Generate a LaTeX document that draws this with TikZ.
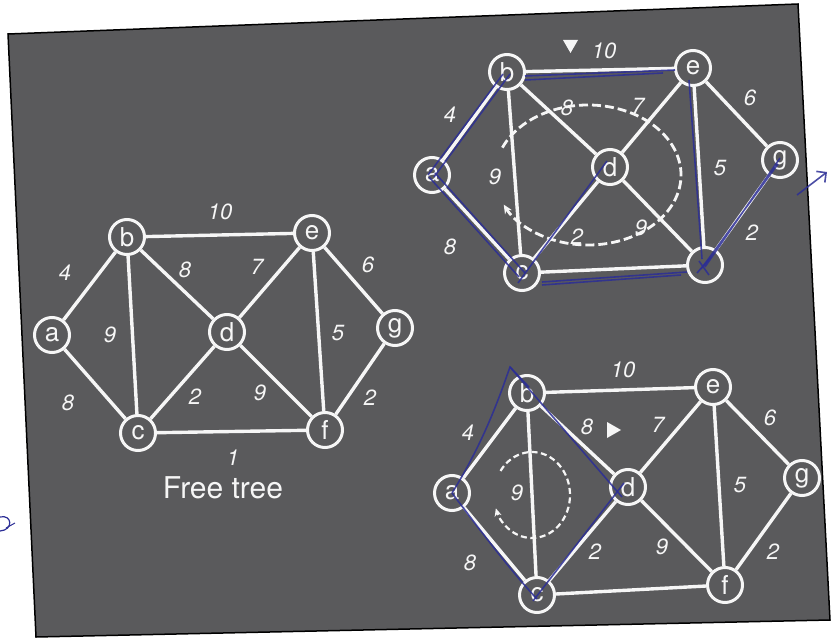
\documentclass[tikz,border=0pt]{standalone}
\usepackage{fontspec}
\setmainfont{TeX Gyre Heros}
\usetikzlibrary{arrows.meta}
\definecolor{slate}{RGB}{90,90,92}
\definecolor{chalk}{RGB}{246,246,246}
\definecolor{pen}{RGB}{44,46,150}
\tikzset{
  vtx/.style={circle,draw=chalk,line width=3pt,fill=slate,text=chalk,inner sep=0pt,
    minimum size=35pt,font=\fontsize{26}{26}\selectfont},
  edge/.style={draw=chalk,line width=3.4pt},
  wt/.style={text=chalk,font=\fontsize{22}{22}\selectfont\itshape,inner sep=0pt},
  ink/.style={draw=pen,line width=1.6pt,opacity=.85},
  sweep/.style={draw=chalk,line width=2.8pt,dash pattern=on 9pt off 4pt},
  pointer/.style={fill=chalk,draw=none}
}
\begin{document}
\begin{tikzpicture}[x=1pt,y=-1pt]
\useasboundingbox[fill=white] (0,0) rectangle (832,639);
% the slide
\filldraw[fill=slate,draw=black,line width=1.5pt] (8,34) -- (798,4) -- (830,620) -- (36,637) -- cycle;

% free tree
\node[vtx] (La) at (52,335) {a};
\node[vtx] (Lb) at (127,237) {b};
\node[vtx] (Lc) at (138,433) {c};
\node[vtx] (Ld) at (227,332) {d};
\node[vtx] (Le) at (312,233) {e};
\node[vtx] (Lf) at (325,430) {f};
\node[vtx] (Lg) at (395,328) {g};
\draw[edge] (La)--(Lb) (La)--(Lc) (Lb)--(Lc) (Lb)--(Ld) (Lb)--(Le) (Lc)--(Ld)
  (Lc)--(Lf) (Ld)--(Le) (Ld)--(Lf) (Le)--(Lf) (Le)--(Lg) (Lf)--(Lg);
\node[wt] (Lw1) at (220,212) {10};
\node[wt] (Lw2) at (65,273) {4};
\node[wt] (Lw3) at (185,270) {8};
\node[wt] (Lw4) at (257,267) {7};
\node[wt] (Lw5) at (368,265) {6};
\node[wt] (Lw6) at (110,335) {9};
\node[wt] (Lw7) at (338,333) {5};
\node[wt] (Lw8) at (68,403) {8};
\node[wt] (Lw9) at (195,397) {2};
\node[wt] (Lw10) at (260,393) {9};
\node[wt] (Lw11) at (370,398) {2};
\node[wt] (Lw12) at (233,458) {1};
\node[text=chalk,font=\fontsize{30}{30}\selectfont] (Lcap) at (223,488) {Free tree};

% top right
\node[vtx] (Ta) at (432,175) {a};
\node[vtx] (Tb) at (507,72) {b};
\node[vtx] (Tc) at (522,273) {c};
\node[vtx] (Td) at (610,167) {d};
\node[vtx] (Te) at (693,68) {e};
\node[vtx] (Tf) at (705,265) {};
\node[vtx] (Tg) at (780,160) {g};
\draw[edge] (Ta)--(Tb) (Ta)--(Tc) (Tb)--(Tc) (Tb)--(Td) (Tb)--(Te) (Tc)--(Td)
  (Tc)--(Tf) (Td)--(Te) (Td)--(Tf) (Te)--(Tf) (Te)--(Tg) (Tf)--(Tg);
\draw[sweep,-{Stealth[length=9pt,width=8pt]}] (588,175) ++(203:93 and 70)
  arc[start angle=203,end angle=515,x radius=93,y radius=70];
\fill[pointer] (563,40) -- (578,40) -- (570.5,53) -- cycle;
\node[wt] (Tw1) at (604,51) {10};
\node[wt] (Tw2) at (450,115) {4};
\node[wt] (Tw3) at (567,108) {8};
\node[wt] (Tw4) at (638,106) {7};
\node[wt] (Tw5) at (750,98) {6};
\node[wt] (Tw6) at (495,177) {9};
\node[wt] (Tw7) at (720,168) {5};
\node[wt] (Tw8) at (450,247) {8};
\node[wt] (Tw9) at (577,237) {2};
\node[wt] (Tw10) at (641,228) {9};
\node[wt] (Tw11) at (752,233) {2};
% pen marks
\draw[ink] ([shift={(-4,0)}]Ta.center)--([shift={(-4,2)}]Tb.center)
  ([shift={(2,2)}]Ta.center)--([shift={(3,2)}]Tb.center);
\draw[ink] ([shift={(-3,2)}]Ta.center)--([shift={(-3,4)}]Tc.center)
  ([shift={(3,-2)}]Ta.center)--([shift={(3,0)}]Tc.center);
\draw[ink] ([shift={(18,4)}]Tb.center)--([shift={(-18,2)}]Te.center)
  ([shift={(18,8)}]Tb.center)--([shift={(-30,5)}]Te.center);
\draw[ink] ([shift={(-4,10)}]Tc.center)--([shift={(-3,-6)}]Td.center);
\draw[ink] ([shift={(20,9)}]Tc.center)--([shift={(-18,7)}]Tf.center)
  ([shift={(20,12)}]Tc.center)--([shift={(-24,10)}]Tf.center);
\draw[ink] ([shift={(-4,12)}]Te.center)--([shift={(-3,-6)}]Tf.center);
\draw[ink] ([shift={(-4,4)}]Tf.center)--([shift={(-2,4)}]Tg.center)
  ([shift={(0,2)}]Tf.center)--([shift={(0,-2)}]Tg.center);
\draw[ink] ([shift={(-8,8)}]Tf.center)--([shift={(6,-8)}]Tf.center)
  ([shift={(-6,-4)}]Tf.center)--([shift={(4,10)}]Tf.center);
\draw[ink,-{Straight Barb[length=7pt]}] (797,195)--(827,172);

% bottom right
\node[vtx] (Ba) at (452,493) {a};
\node[vtx] (Bb) at (527,393) {b};
\node[vtx] (Bc) at (537,595) {c};
\node[vtx] (Bd) at (628,487) {d};
\node[vtx] (Be) at (713,387) {e};
\node[vtx] (Bf) at (725,585) {f};
\node[vtx] (Bg) at (802,478) {g};
\draw[edge] (Ba)--(Bb) (Ba)--(Bc) (Bb)--(Bc) (Bb)--(Bd) (Bb)--(Be) (Bc)--(Bd)
  (Bc)--(Bf) (Bd)--(Be) (Bd)--(Bf) (Be)--(Bf) (Be)--(Bg) (Bf)--(Bg);
\draw[sweep,line width=2.2pt,dash pattern=on 6pt off 3.5pt,-{Stealth[length=8pt,width=7pt]}]
  (532,495) ++(214:38 and 43) arc[start angle=214,end angle=522,x radius=38,y radius=43];
\fill[pointer] (607,422) -- (607,438) -- (621,430) -- cycle;
\node[wt] (Bw1) at (623,370) {10};
\node[wt] (Bw2) at (468,433) {4};
\node[wt] (Bw3) at (587,427) {8};
\node[wt] (Bw4) at (658,425) {7};
\node[wt] (Bw5) at (770,418) {6};
\node[wt] (Bw6) at (517,493) {9};
\node[wt] (Bw7) at (740,485) {5};
\node[wt] (Bw8) at (470,563) {8};
\node[wt] (Bw9) at (595,552) {2};
\node[wt] (Bw10) at (662,547) {9};
\node[wt] (Bw11) at (773,552) {2};
% pen marks
\draw[ink] (Ba.center) .. controls (485,440) and (500,395) .. (510,367) -- ([shift={(2,-6)}]Bb.center);
\draw[ink] (510,367) -- ([shift={(-6,10)}]Bd.center);
\draw[ink] (Ba.center) .. controls (480,530) and (510,570) .. ([shift={(0,4)}]Bc.center);
\draw[ink] ([shift={(-4,6)}]Bc.center) -- ([shift={(-4,-4)}]Bd.center);

% stray mark on the page
\draw[pen,line width=1.2pt] (0,517) .. controls (12,514) and (14,530) .. (0,531);
\draw[pen,line width=1pt] (6,528) -- (15,523);
\end{tikzpicture}
\end{document}
